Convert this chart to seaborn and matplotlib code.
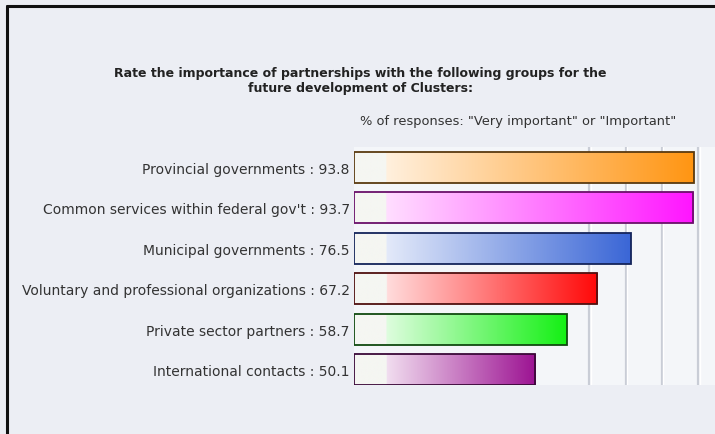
import numpy as np
import pandas as pd
import matplotlib
matplotlib.use("Agg")
import matplotlib.pyplot as plt
from matplotlib.colors import to_rgb
from matplotlib.lines import Line2D
import seaborn as sns

# Survey results: share of "Very important" or "Important" responses
categories = [
    "Provincial governments",
    "Common services within federal gov't",
    "Municipal governments",
    "Voluntary and professional organizations",
    "Private sector partners",
    "International contacts",
]
values = [93.8, 93.7, 76.5, 67.2, 58.7, 50.1]

bar_colors = ["#ff9512", "#ff14ff", "#3a66d6", "#ff0808", "#14f014", "#9c1292"]
edge_colors = ["#5a3a10", "#6a106a", "#14245a", "#501010", "#104a10", "#3a0838"]
grid_marks = [65, 75, 85, 95]

title = ("Rate the importance of partnerships with the following groups for the\n"
         "future development of Clusters:")
subtitle = "% of responses: \"Very important\" or \"Important\""

df = pd.DataFrame({"group": categories, "pct": values})

sns.set_theme(style="white")
plt.rcParams["font.family"] = ["DejaVu Sans"]

fig = plt.figure(figsize=(7.15, 4.35), dpi=100, facecolor="#eceef4")
ax = fig.add_axes([354 / 715, 49 / 435, 1 - 354 / 715, 238 / 435])
ax.set_facecolor("#f4f6f9")

sns.barplot(data=df, y="group", x="pct", hue="group", palette=bar_colors,
            orient="h", width=0.76, legend=False, ax=ax)

# vertical guide lines behind the bars
for g in grid_marks:
    ax.axvline(g, color="#c9cdd6", lw=1.6, zorder=0.5)
    ax.axvline(g + 0.45, color="#ffffff", lw=1.0, zorder=0.5)

# gradient fill: pale lead-in, then tint rising to the full colour at the bar end
white = np.array([1.0, 1.0, 1.0])
lead = np.array(to_rgb("#f5f6f2"))
for patch, col, ec in zip(ax.patches, bar_colors, edge_colors):
    x0, y0 = patch.get_x(), patch.get_y()
    w, h = patch.get_width(), patch.get_height()
    n = 400
    xs = x0 + w * (np.arange(n) + 0.5) / n
    c = np.array(to_rgb(col))
    img = np.zeros((1, n, 3))
    for i, v in enumerate(xs):
        if v < 9:
            img[0, i] = lead
        else:
            t = (v - 9) / max(w - 9, 1e-6)
            f = 0.14 + 0.86 * t
            img[0, i] = white + (c - white) * f
    ax.imshow(img, extent=[x0, x0 + w, y0 + h, y0], aspect="auto",
              interpolation="bilinear", zorder=2)
    patch.set_facecolor("none")
    patch.set_edgecolor(ec)
    patch.set_linewidth(1.3)
    patch.set_zorder(3)

ax.set_xlim(0, 99.7)
ax.set_ylim(5.38, -0.5)

ax.set_yticks(range(len(categories)))
ax.set_yticklabels([f"{c} : {v}" for c, v in zip(categories, values)],
                   fontsize=10, color="#333333")
ax.tick_params(axis="y", length=0, pad=3)
ax.set_xticks([])
ax.set_xlabel("")
ax.set_ylabel("")
for s in ax.spines.values():
    s.set_visible(False)

fig.text(360 / 715, 1 - 81 / 435, title, ha="center", va="center",
         fontsize=9.0, fontweight="bold", color="#222222", linespacing=1.15)
fig.text(676 / 715, 1 - 121 / 435, subtitle, ha="right", va="center",
         fontsize=9.4, color="#333333")

# outer frame: top and left rules
fig.add_artist(Line2D([6.5 / 715, 1], [1 - 6.5 / 435, 1 - 6.5 / 435],
                      color="#111111", lw=2.2, transform=fig.transFigure))
fig.add_artist(Line2D([6.5 / 715, 6.5 / 715], [0, 1 - 6.5 / 435],
                      color="#111111", lw=2.2, transform=fig.transFigure))

fig.savefig("out.png", dpi=100, facecolor=fig.get_facecolor())
